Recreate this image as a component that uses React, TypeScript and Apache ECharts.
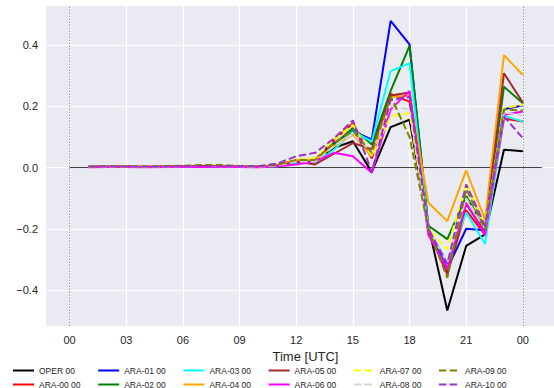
import React, { useEffect, useRef } from "react";
import * as echarts from "echarts";

const hours = [1, 2, 3, 4, 5, 6, 7, 8, 9, 10, 11, 12, 13, 14, 15, 16, 17, 18, 19, 20, 21, 22, 23, 24];

const seriesNames = ["OPER 00", "ARA-00 00", "ARA-01 00", "ARA-02 00", "ARA-03 00", "ARA-04 00", "ARA-05 00", "ARA-06 00", "ARA-07 00", "ARA-08 00", "ARA-09 00", "ARA-10 00"];
const seriesColors = ["#000000", "#ff0000", "#0000ff", "#008000", "#00ffff", "#ffa500", "#a52a2a", "#ff00ff", "#ffff00", "#d3d3d3", "#808000", "#9932cc"];
const seriesDashed = [false, false, false, false, false, false, false, false, true, true, true, true];

const OPER = [0.002, 0.003, 0.002, 0.002, 0.002, 0.002, 0.003, 0.003, 0.002, 0.002, 0.005, 0.015, 0.02, 0.064, 0.086, -0.015, 0.132, 0.156, -0.19, -0.467, -0.256, -0.218, 0.058, 0.053];
const ARA00 = [0.003, 0.003, 0.002, 0.002, 0.003, 0.003, 0.004, 0.004, 0.003, 0.002, 0.008, 0.025, 0.025, 0.09, 0.145, 0.03, 0.24, 0.215, -0.21, -0.345, -0.14, -0.22, 0.16, 0.15];
const ARA01 = [0.002, 0.004, 0.003, 0.002, 0.002, 0.003, 0.004, 0.003, 0.002, 0.003, 0.006, 0.02, 0.025, 0.08, 0.12, 0.091, 0.479, 0.402, -0.2, -0.33, -0.2, -0.205, 0.19, 0.203];
const ARA02 = [0.003, 0.004, 0.003, 0.002, 0.003, 0.004, 0.005, 0.004, 0.003, 0.003, 0.007, 0.02, 0.02, 0.075, 0.129, 0.075, 0.25, 0.397, -0.19, -0.234, -0.093, -0.2, 0.264, 0.21];
const ARA03 = [0.002, 0.003, 0.002, 0.002, 0.002, 0.003, 0.003, 0.003, 0.002, 0.002, 0.004, 0.015, 0.015, 0.058, 0.118, 0.085, 0.315, 0.34, -0.2, -0.31, -0.147, -0.25, 0.169, 0.15];
const ARA04 = [0.003, 0.004, 0.003, 0.003, 0.003, 0.004, 0.005, 0.005, 0.003, 0.003, 0.008, 0.025, 0.026, 0.07, 0.107, 0.037, 0.23, 0.235, -0.115, -0.175, -0.009, -0.17, 0.367, 0.302];
const ARA05 = [0.002, 0.003, 0.003, 0.002, 0.003, 0.004, 0.005, 0.004, 0.003, 0.002, 0.006, 0.02, 0.01, 0.045, 0.08, 0.06, 0.235, 0.245, -0.2, -0.35, -0.12, -0.21, 0.308, 0.212];
const ARA06 = [0.001, 0.002, 0.002, 0.001, 0.002, 0.002, 0.002, 0.002, 0.002, 0.001, 0.004, 0.01, 0.02, 0.048, 0.037, -0.017, 0.19, 0.25, -0.22, -0.33, -0.115, -0.22, 0.172, 0.183];
const ARA07 = [0.003, 0.004, 0.003, 0.003, 0.004, 0.005, 0.006, 0.005, 0.005, 0.004, 0.01, 0.026, 0.03, 0.09, 0.14, 0.037, 0.167, 0.178, -0.2, -0.267, -0.05, -0.19, 0.194, 0.205];
const ARA08 = [0.003, 0.003, 0.003, 0.002, 0.003, 0.004, 0.005, 0.004, 0.004, 0.003, 0.007, 0.02, 0.02, 0.07, 0.11, 0.05, 0.2, 0.19, -0.2, -0.31, -0.1, -0.2, 0.18, 0.17];
const ARA09 = [0.003, 0.004, 0.003, 0.003, 0.004, 0.006, 0.008, 0.008, 0.005, 0.004, 0.009, 0.025, 0.025, 0.08, 0.12, 0.048, 0.232, 0.1, -0.2, -0.36, -0.07, -0.2, 0.19, 0.186];
const ARA10 = [0.003, 0.004, 0.003, 0.003, 0.003, 0.004, 0.005, 0.004, 0.004, 0.004, 0.013, 0.037, 0.048, 0.095, 0.154, -0.015, 0.22, 0.23, -0.2, -0.315, -0.055, -0.19, 0.167, 0.096];

const seriesValues = [OPER, ARA00, ARA01, ARA02, ARA03, ARA04, ARA05, ARA06, ARA07, ARA08, ARA09, ARA10];

const xTicks = [0, 3, 6, 9, 12, 15, 18, 21, 24];
const yTicks = [-0.4, -0.2, 0, 0.2, 0.4];
const zeroLineX = [0, 25];
const markerHours = [0, 24];
const xAxisTitle = "Time [UTC]";

const FONT = "Liberation Sans, Arial, sans-serif";

export default function App() {
  const ref = useRef<HTMLDivElement>(null);
  useEffect(() => {
    document.body.style.margin = "0";
    const chart = echarts.init(ref.current!, null, { renderer: "svg" });

    const lineSeries = seriesNames.map((name, i) => ({
      name,
      type: "line",
      data: hours.map((h, j) => [h, seriesValues[i][j]]),
      symbol: "none",
      showSymbol: false,
      lineStyle: {
        color: seriesColors[i],
        width: 2,
        type: seriesDashed[i] ? [7.4, 3.2] : "solid",
      },
      itemStyle: { color: seriesColors[i], opacity: 0 },
      z: 3 + i,
    }));

    const legendColumns: string[][] = [];
    for (let c = 0; c < 6; c++) legendColumns.push([seriesNames[2 * c], seriesNames[2 * c + 1]]);

    chart.setOption({
      animation: false,
      backgroundColor: "#ffffff",
      grid: { left: 46, right: 0, top: 6, bottom: 62, backgroundColor: "#eaeaf2", show: true, borderWidth: 0 },
      xAxis: {
        type: "value",
        min: -1.25,
        max: 25.65,
        axisLine: { show: false },
        axisTick: { show: false, customValues: xTicks },
        splitLine: { show: true, lineStyle: { color: "#ffffff", width: 1.2 } },
        axisLabel: {
          customValues: xTicks,
          formatter: (v: number) => String(Math.round(v) % 24).padStart(2, "0"),
          color: "#262626",
          fontSize: 11,
          fontFamily: FONT,
          margin: 8,
        },
        name: xAxisTitle,
        nameLocation: "middle",
        nameGap: 23,
        nameTextStyle: { color: "#262626", fontSize: 13, fontFamily: FONT, padding: [0, 0, 0, 11] },
      },
      yAxis: {
        type: "value",
        min: -0.5175,
        max: 0.5275,
        axisLine: { show: false },
        axisTick: { show: false, customValues: yTicks },
        splitLine: { show: true, lineStyle: { color: "#ffffff", width: 1.2 } },
        axisLabel: {
          customValues: yTicks,
          formatter: (v: number) => (v < 0 ? "\u2212" : "") + Math.abs(v).toFixed(1),
          color: "#262626",
          fontSize: 11,
          fontFamily: FONT,
          margin: 8,
        },
      },
      legend: legendColumns.map((col, i) => ({
        orient: "vertical",
        left: 12 + i * 85.2,
        top: 366,
        height: 60,
        width: 90,
        padding: 0,
        itemWidth: 21,
        itemHeight: 8,
        itemGap: 5,
        selectedMode: false,
        itemStyle: { opacity: 0 },
        data: col,
        textStyle: { fontSize: 8.5, color: "#262626", fontFamily: FONT },
      })),
      series: [
        {
          name: "zero",
          type: "line",
          data: zeroLineX.map((x) => [x, 0]),
          symbol: "none",
          lineStyle: { color: "#404040", width: 1 },
          silent: true,
          z: 2,
          markLine: {
            silent: true,
            symbol: "none",
            label: { show: false },
            lineStyle: { color: "#8c8c8c", type: [1.5, 1.5], width: 0.9 },
            data: markerHours.map((h) => ({ xAxis: h })),
          },
        },
        ...lineSeries,
      ],
    });
    return () => chart.dispose();
  }, []);
  return <div ref={ref} style={{ width: 554, height: 388 }} />;
}
